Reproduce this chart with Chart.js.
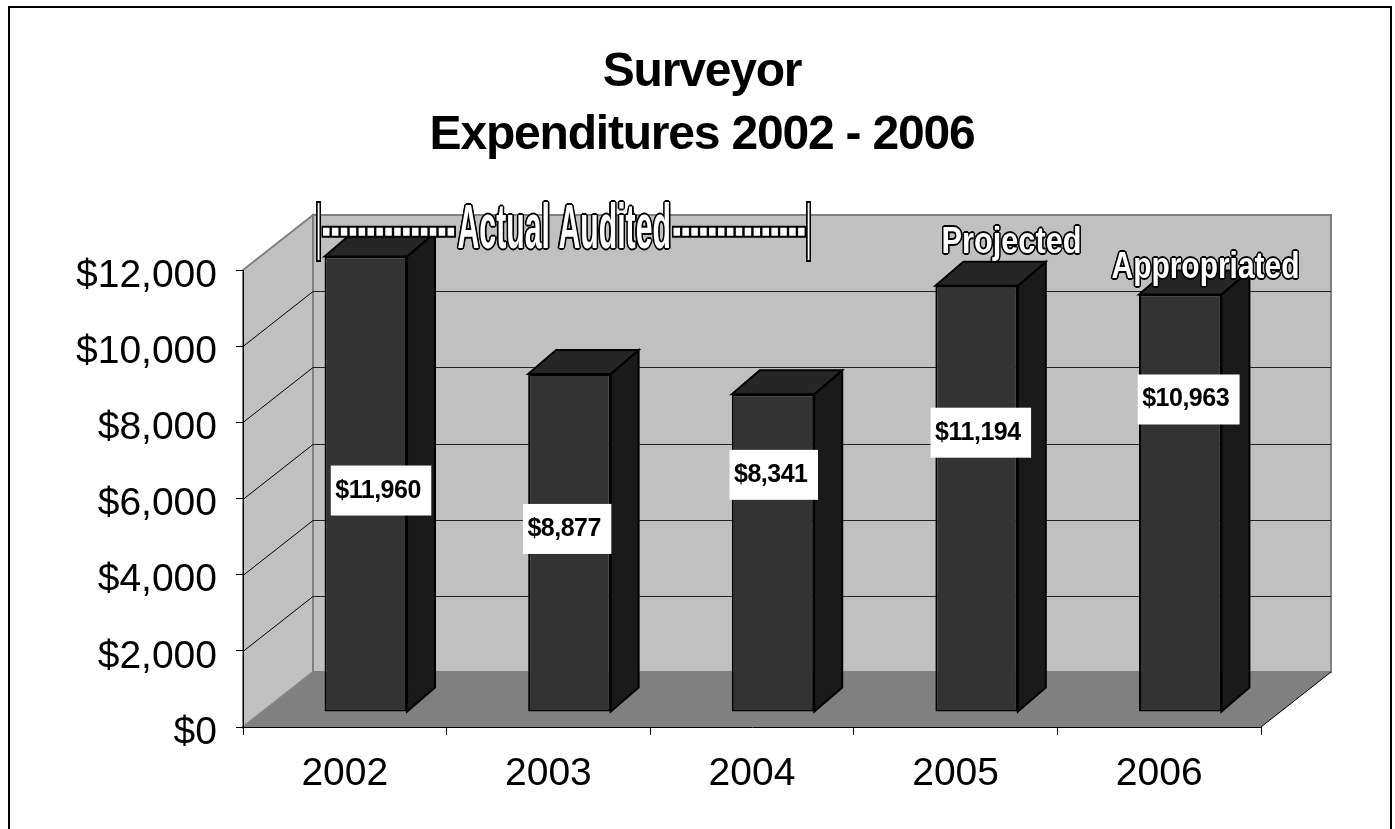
<!DOCTYPE html>
<html>
<head>
<meta charset="utf-8">
<title>Surveyor Expenditures 2002 - 2006</title>
<style>
  html, body { margin: 0; padding: 0; background: #fff; overflow: hidden; }
  #wrap { width: 1395px; height: 829px; }
</style>
</head>
<body>
<div id="wrap"><canvas id="chart" width="1395" height="829"></canvas></div>
<script src="https://cdn.jsdelivr.net/npm/chart.js@4"></script>
<script>
// Chart data
const years = ['2002', '2003', '2004', '2005', '2006'];
const expenditures = [11960, 8877, 8341, 11194, 10963];
const yTicks = [0, 2000, 4000, 6000, 8000, 10000, 12000];
const titleLines = ['Surveyor', 'Expenditures 2002 - 2006'];

// 3D look: how far the back wall and the bars sit behind the axis plane
const WALL_DEPTH = { x: 70, y: 55 };
const BAR_SHIFT = { x: 21, y: 15 };
const BAR_DEPTH = { x: 28, y: 24 };

// Value boxes were placed by hand in the original, relative to the top of each bar
const boxOffsets = [[-35, 209], [-46.5, 130], [-43.5, 55.5], [-46, 122], [-42.5, 80]];

const FONT = '"Liberation Sans", Arial, sans-serif';

function poly(ctx, pts, fill, stroke, width) {
    ctx.beginPath();
    pts.forEach((p, i) => i ? ctx.lineTo(p[0], p[1]) : ctx.moveTo(p[0], p[1]));
    ctx.closePath();
    if (fill) { ctx.fillStyle = fill; ctx.fill(); }
    if (stroke) { ctx.strokeStyle = stroke; ctx.lineWidth = width; ctx.stroke(); }
}

function line(ctx, x1, y1, x2, y2, color, width) {
    ctx.beginPath();
    ctx.moveTo(x1, y1);
    ctx.lineTo(x2, y2);
    ctx.strokeStyle = color;
    ctx.lineWidth = width;
    ctx.stroke();
}

// WordArt style text: white fill, black outline, squeezed to fit a box
function wordArt(ctx, text, left, right, top, baseline, outline) {
    const size = (baseline - top) / 0.716;
    ctx.save();
    ctx.font = 'bold ' + size + 'px ' + FONT;
    ctx.textBaseline = 'alphabetic';
    ctx.textAlign = 'left';
    const sx = (right - left) / ctx.measureText(text).width;
    const draw = (ox, oy, color) => {
        ctx.setTransform(sx, 0, 0, 1, left + ox, baseline + oy);
        ctx.fillStyle = color;
        ctx.fillText(text, 0, 0);
    };
    // outline has to stay even though the glyphs are squeezed, so no strokeText here
    for (let a = 0; a < 8; a++) {
        draw(Math.cos(a * Math.PI / 4) * outline, Math.sin(a * Math.PI / 4) * outline, '#000');
    }
    draw(0, 0, '#fff');
    ctx.restore();
}

function auditBracket(ctx) {
    [316, 806].forEach(x => {
        ctx.fillStyle = '#000';
        ctx.fillRect(x, 201, 5, 61);
        ctx.fillStyle = '#fff';
        ctx.fillRect(x + 1.7, 203, 1.8, 57);
    });
    [[321.5, 456], [672, 806]].forEach(seg => {
        line(ctx, seg[0], 231.7, seg[1], 231.7, '#000', 12);
        ctx.save();
        ctx.setLineDash([6.5, 2.4]);
        line(ctx, seg[0] + 1.5, 231.7, seg[1] - 1, 231.7, '#fff', 8);
        ctx.restore();
    });
}

const surveyorPlugin = {
    id: 'surveyor3d',
    beforeDraw(chart) {
        const ctx = chart.ctx;
        const area = chart.chartArea;
        const y = chart.scales.y;
        const dx = WALL_DEPTH.x, dy = WALL_DEPTH.y;
        const backTop = y.getPixelForValue(12000) - dy;
        const backBottom = y.getPixelForValue(0) - dy;

        // tighter title spacing, the title plugin has no option for it
        const titleBlock = chart.titleBlock;
        if (!titleBlock.spaced) {
            const drawTitle = titleBlock.draw;
            titleBlock.draw = function() {
                ctx.letterSpacing = '-1.2px';
                drawTitle.call(this);
                ctx.letterSpacing = '0px';
            };
            titleBlock.spaced = true;
        }

        ctx.save();
        ctx.fillStyle = '#fff';
        ctx.fillRect(0, 0, chart.width, chart.height);

        // frame around the slide, runs off the bottom
        ctx.strokeStyle = '#000';
        ctx.lineWidth = 2;
        ctx.strokeRect(9, 7, 1382, 900);

        // left wall, back wall, floor
        poly(ctx, [[area.left, area.top], [area.left + dx, backTop], [area.left + dx, backBottom], [area.left, area.bottom]], '#c0c0c0', '#808080', 2);
        poly(ctx, [[area.left + dx, backTop], [area.right + dx, backTop], [area.right + dx, backBottom], [area.left + dx, backBottom]], '#c0c0c0', '#808080', 2);
        poly(ctx, [[area.left, area.bottom], [area.left + dx, backBottom], [area.right + dx, backBottom], [area.right, area.bottom]], '#808080');
        line(ctx, area.left, area.bottom, area.left + dx, backBottom, '#8a8a8a', 1);
        line(ctx, area.right, area.bottom, area.right + dx, backBottom, '#000', 1);

        // gridlines carried across the two walls
        yTicks.slice(1, -1).forEach(v => {
            const py = Math.round(y.getPixelForValue(v)) + 0.5;
            line(ctx, area.left, py, area.left + dx, py - dy, '#000', 1);
            line(ctx, area.left + dx, py - dy, area.right + dx, py - dy, '#222', 1);
        });
        ctx.restore();
    },
    beforeDatasetsDraw(chart) {
        chart.ctx.save();
        chart.ctx.translate(BAR_SHIFT.x, -BAR_SHIFT.y);
    },
    afterDatasetsDraw(chart) {
        const ctx = chart.ctx;
        ctx.restore();
        ctx.save();
        ctx.lineJoin = 'miter';

        const bars = chart.getDatasetMeta(0).data;
        bars.forEach(bar => {
            const l = bar.x - bar.width / 2 + BAR_SHIFT.x;
            const r = bar.x + bar.width / 2 + BAR_SHIFT.x;
            const top = bar.y - BAR_SHIFT.y;
            const bottom = bar.base - BAR_SHIFT.y;
            const bx = BAR_DEPTH.x, by = BAR_DEPTH.y;
            poly(ctx, [[r, top], [r + bx, top - by], [r + bx, bottom - by], [r, bottom]], '#1a1a1a', '#000', 2);
            poly(ctx, [[l, top], [l + bx, top - by], [r + bx, top - by], [r, top]], '#262626', '#000', 2);
        });

        // white value boxes
        ctx.font = 'bold 25px ' + FONT;
        ctx.letterSpacing = '-0.5px';
        ctx.textBaseline = 'alphabetic';
        ctx.textAlign = 'left';
        bars.forEach((bar, i) => {
            const text = '$' + expenditures[i].toLocaleString('en-US');
            const w = ctx.measureText(text).width + 15;
            const left = bar.x + BAR_SHIFT.x + boxOffsets[i][0];
            const top = bar.y - BAR_SHIFT.y + boxOffsets[i][1];
            ctx.fillStyle = '#fff';
            ctx.fillRect(left, top, w, 50);
            ctx.fillStyle = '#000';
            ctx.fillText(text, left + 4.5, top + 32);
        });
        ctx.letterSpacing = '0px';

        auditBracket(ctx);
        wordArt(ctx, 'Actual Audited', 457.5, 671, 203, 248, 1.6);
        wordArt(ctx, 'Projected', 941.5, 1081.5, 226.5, 253, 1.6);
        wordArt(ctx, 'Appropriated', 1111.5, 1299.5, 251.5, 278, 1.6);
        ctx.restore();
    }
};

new Chart(document.getElementById('chart').getContext('2d'), {
    type: 'bar',
    data: {
        labels: years,
        datasets: [{
            data: expenditures,
            backgroundColor: '#333333',
            borderColor: '#000',
            borderWidth: 2,
            borderSkipped: false,
            barPercentage: 0.405,
            categoryPercentage: 1,
            clip: false
        }]
    },
    plugins: [surveyorPlugin],
    options: {
        responsive: false,
        animation: false,
        events: [],
        layout: { padding: { left: 9, right: 0, top: 0, bottom: 0 } },
        plugins: {
            legend: { display: false },
            tooltip: { enabled: false },
            title: {
                display: true,
                text: titleLines,
                color: '#000',
                font: { family: FONT, size: 48, weight: 'bold', lineHeight: 63 / 48 },
                padding: { top: 41, bottom: 103 }
            }
        },
        scales: {
            y: {
                min: 0,
                max: 12000,
                afterBuildTicks(axis) { axis.ticks = yTicks.map(v => ({ value: v })); },
                afterFit(axis) { axis.width = 234; },
                border: { display: true, color: '#000', width: 1 },
                grid: { drawOnChartArea: false, drawTicks: true, tickLength: 7, color: '#000' },
                ticks: {
                    color: '#000',
                    padding: 19,
                    labelOffset: 6,
                    font: { family: FONT, size: 39 },
                    callback: value => '$' + value.toLocaleString('en-US')
                }
            },
            // empty axis, only reserves the room to the right of the floor
            spacer: {
                position: 'right',
                display: true,
                afterFit(axis) { axis.width = 134; },
                border: { display: false },
                grid: { display: false },
                ticks: { display: false }
            },
            x: {
                afterFit(axis) { axis.height = 102; },
                border: { display: true, color: '#000', width: 1 },
                grid: { drawOnChartArea: false, drawTicks: true, tickLength: 8, color: '#000' },
                ticks: {
                    color: '#000',
                    padding: 16,
                    maxRotation: 0,
                    font: { family: FONT, size: 39 }
                }
            }
        }
    }
});
</script>
</body>
</html>
